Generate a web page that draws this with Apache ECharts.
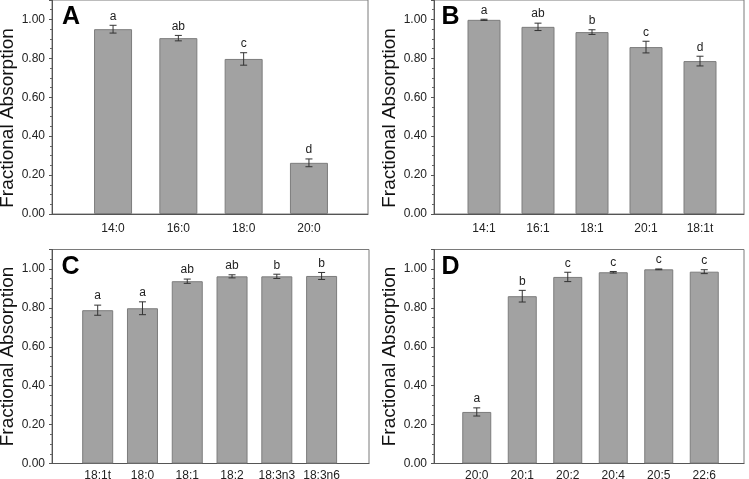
<!DOCTYPE html>
<html>
<head>
<meta charset="utf-8">
<script src="https://cdn.jsdelivr.net/npm/echarts@6/dist/echarts.min.js"></script>
<style>html,body{margin:0;padding:0;background:#fff}#c{width:749px;height:479px}</style>
</head>
<body>
<div id="c"></div>
<script>
const catsA = ['14:0','16:0','18:0','20:0'];
const valsA = [0.950, 0.904, 0.797, 0.263];
const errA  = [0.020, 0.014, 0.032, 0.020];
const sigA  = ['a','ab','c','d'];

const catsB = ['14:1','16:1','18:1','20:1','18:1t'];
const valsB = [0.998, 0.962, 0.935, 0.858, 0.786];
const errB  = [0.003, 0.019, 0.012, 0.030, 0.025];
const sigB  = ['a','ab','b','c','d'];

const catsC = ['18:1t','18:0','18:1','18:2','18:3n3','18:3n6'];
const valsC = [0.788, 0.798, 0.937, 0.962, 0.962, 0.964];
const errC  = [0.026, 0.033, 0.011, 0.008, 0.011, 0.018];
const sigC  = ['a','a','ab','ab','b','b'];

const catsD = ['20:0','20:1','20:2','20:4','20:5','22:6'];
const valsD = [0.265, 0.860, 0.959, 0.983, 0.998, 0.986];
const errD  = [0.021, 0.030, 0.024, 0.004, 0.002, 0.010];
const sigD  = ['a','b','c','c','c','c'];

const yTicks = ['0.00','0.20','0.40','0.60','0.80','1.00'];
const yMin = 0, yMax = 1.1, yStep = 0.2;

const FONT = "'Liberation Sans', Arial, Helvetica, sans-serif";

const panels = [
  {cats: catsA, vals: valsA, errs: errA, sigs: sigA, letter: 'A',
   outer: {left: 52, right: 381, top: 0, bottom: 265}, inner: {left: 80.4, right: 407.4},
   barW: 38, nameShift: 22, labMargin: 9, letterLeft: 62},
  {cats: catsB, vals: valsB, errs: errB, sigs: sigB, letter: 'B',
   outer: {left: 434, right: 5, top: 0, bottom: 265}, inner: {left: 457, right: 22},
   barW: 33, nameShift: 22, labMargin: 9, letterLeft: 441.5},
  {cats: catsC, vals: valsC, errs: errC, sigs: sigC, letter: 'C',
   outer: {left: 52, right: 380, top: 249.5, bottom: 15.5}, inner: {left: 75.3, right: 405},
   barW: 31, nameShift: 0, labMargin: 6, letterLeft: 61.5},
  {cats: catsD, vals: valsD, errs: errD, sigs: sigD, letter: 'D',
   outer: {left: 434, right: 5, top: 249.5, bottom: 15.5}, inner: {left: 454, right: 22},
   barW: 29, nameShift: 0, labMargin: 6, letterLeft: 441.5}
];

const grid = [], xAxis = [], yAxis = [], series = [], title = [];

panels.forEach((p, k) => {
  const go = 2 * k, gi = 2 * k + 1;
  grid.push({left: p.outer.left, right: p.outer.right, top: p.outer.top, bottom: p.outer.bottom,
             outerBoundsMode: 'none', containLabel: false,
             show: true, borderColor: '#7a7a7a', borderWidth: 1, backgroundColor: 'transparent'});
  grid.push({left: p.inner.left, right: p.inner.right, top: p.outer.top, bottom: p.outer.bottom,
             outerBoundsMode: 'none', containLabel: false});

  xAxis.push({gridIndex: go, type: 'value', min: 0, max: 1, show: true,
              axisLine: {show: true, lineStyle: {color: '#555', width: 1}},
              axisTick: {show: false}, axisLabel: {show: false}, splitLine: {show: false}});
  xAxis.push({gridIndex: gi, type: 'category', data: p.cats, boundaryGap: true,
              axisLine: {show: false}, axisTick: {show: false}, splitLine: {show: false},
              axisLabel: {color: '#222', fontSize: 12, fontFamily: FONT, margin: p.labMargin, interval: 0}});

  yAxis.push({gridIndex: go, type: 'value', min: yMin, max: yMax, interval: yStep,
              name: 'Fractional Absorption', nameLocation: 'middle', nameGap: 34,
              nameTextStyle: {fontSize: 19, color: '#111', fontFamily: FONT,
                              padding: [0, p.nameShift, 0, 0]},
              axisLine: {show: true, lineStyle: {color: '#555', width: 1}},
              axisTick: {show: true, inside: false, length: 3, lineStyle: {color: '#555'}},
              minorTick: {show: true, splitNumber: 4, length: 2, lineStyle: {color: '#666'}},
              splitLine: {show: false},
              axisLabel: {color: '#222', fontSize: 12, fontFamily: FONT, margin: 7,
                          formatter: v => {
                            const s = v.toFixed(2);
                            return yTicks.indexOf(s) >= 0 ? s : '';
                          }}});
  yAxis.push({gridIndex: gi, type: 'value', min: yMin, max: yMax, show: false});

  series.push({type: 'bar', xAxisIndex: gi, yAxisIndex: gi, data: p.vals, barWidth: p.barW,
               itemStyle: {color: '#a2a2a2', borderColor: '#7d7d7d', borderWidth: 1},
               silent: true, animation: false});

  const sigs = p.sigs;
  series.push({type: 'custom', xAxisIndex: gi, yAxisIndex: gi, z: 5, animation: false, silent: true,
               data: p.vals.map((v, i) => [i, v, p.errs[i]]),
               renderItem: (params, api) => {
                 const i = api.value(0), v = api.value(1), e = api.value(2);
                 const t = api.coord([i, v + e]);
                 const b = api.coord([i, v - e]);
                 const cap = 3.5;
                 const ln = (x1, y1, x2, y2) => ({type: 'line', shape: {x1, y1, x2, y2},
                                                  style: {stroke: '#333', lineWidth: 1}});
                 return {type: 'group', children: [
                   ln(t[0], t[1], b[0], b[1]),
                   ln(t[0] - cap, t[1], t[0] + cap, t[1]),
                   ln(b[0] - cap, b[1], b[0] + cap, b[1]),
                   {type: 'text', style: {text: sigs[params.dataIndex], x: t[0], y: t[1] - 9,
                     align: 'center', verticalAlign: 'middle',
                     font: '12px ' + FONT, fill: '#222'}}
                 ]};
               }});

  title.push({text: p.letter, left: p.letterLeft, top: p.outer.top + 5, padding: 0,
              textStyle: {fontSize: 25, fontWeight: 'bold', color: '#000', fontFamily: FONT}});
});

const chart = echarts.init(document.getElementById('c'), null, {renderer: 'canvas'});
chart.setOption({animation: false, title, grid, xAxis, yAxis, series});
</script>
</body>
</html>
